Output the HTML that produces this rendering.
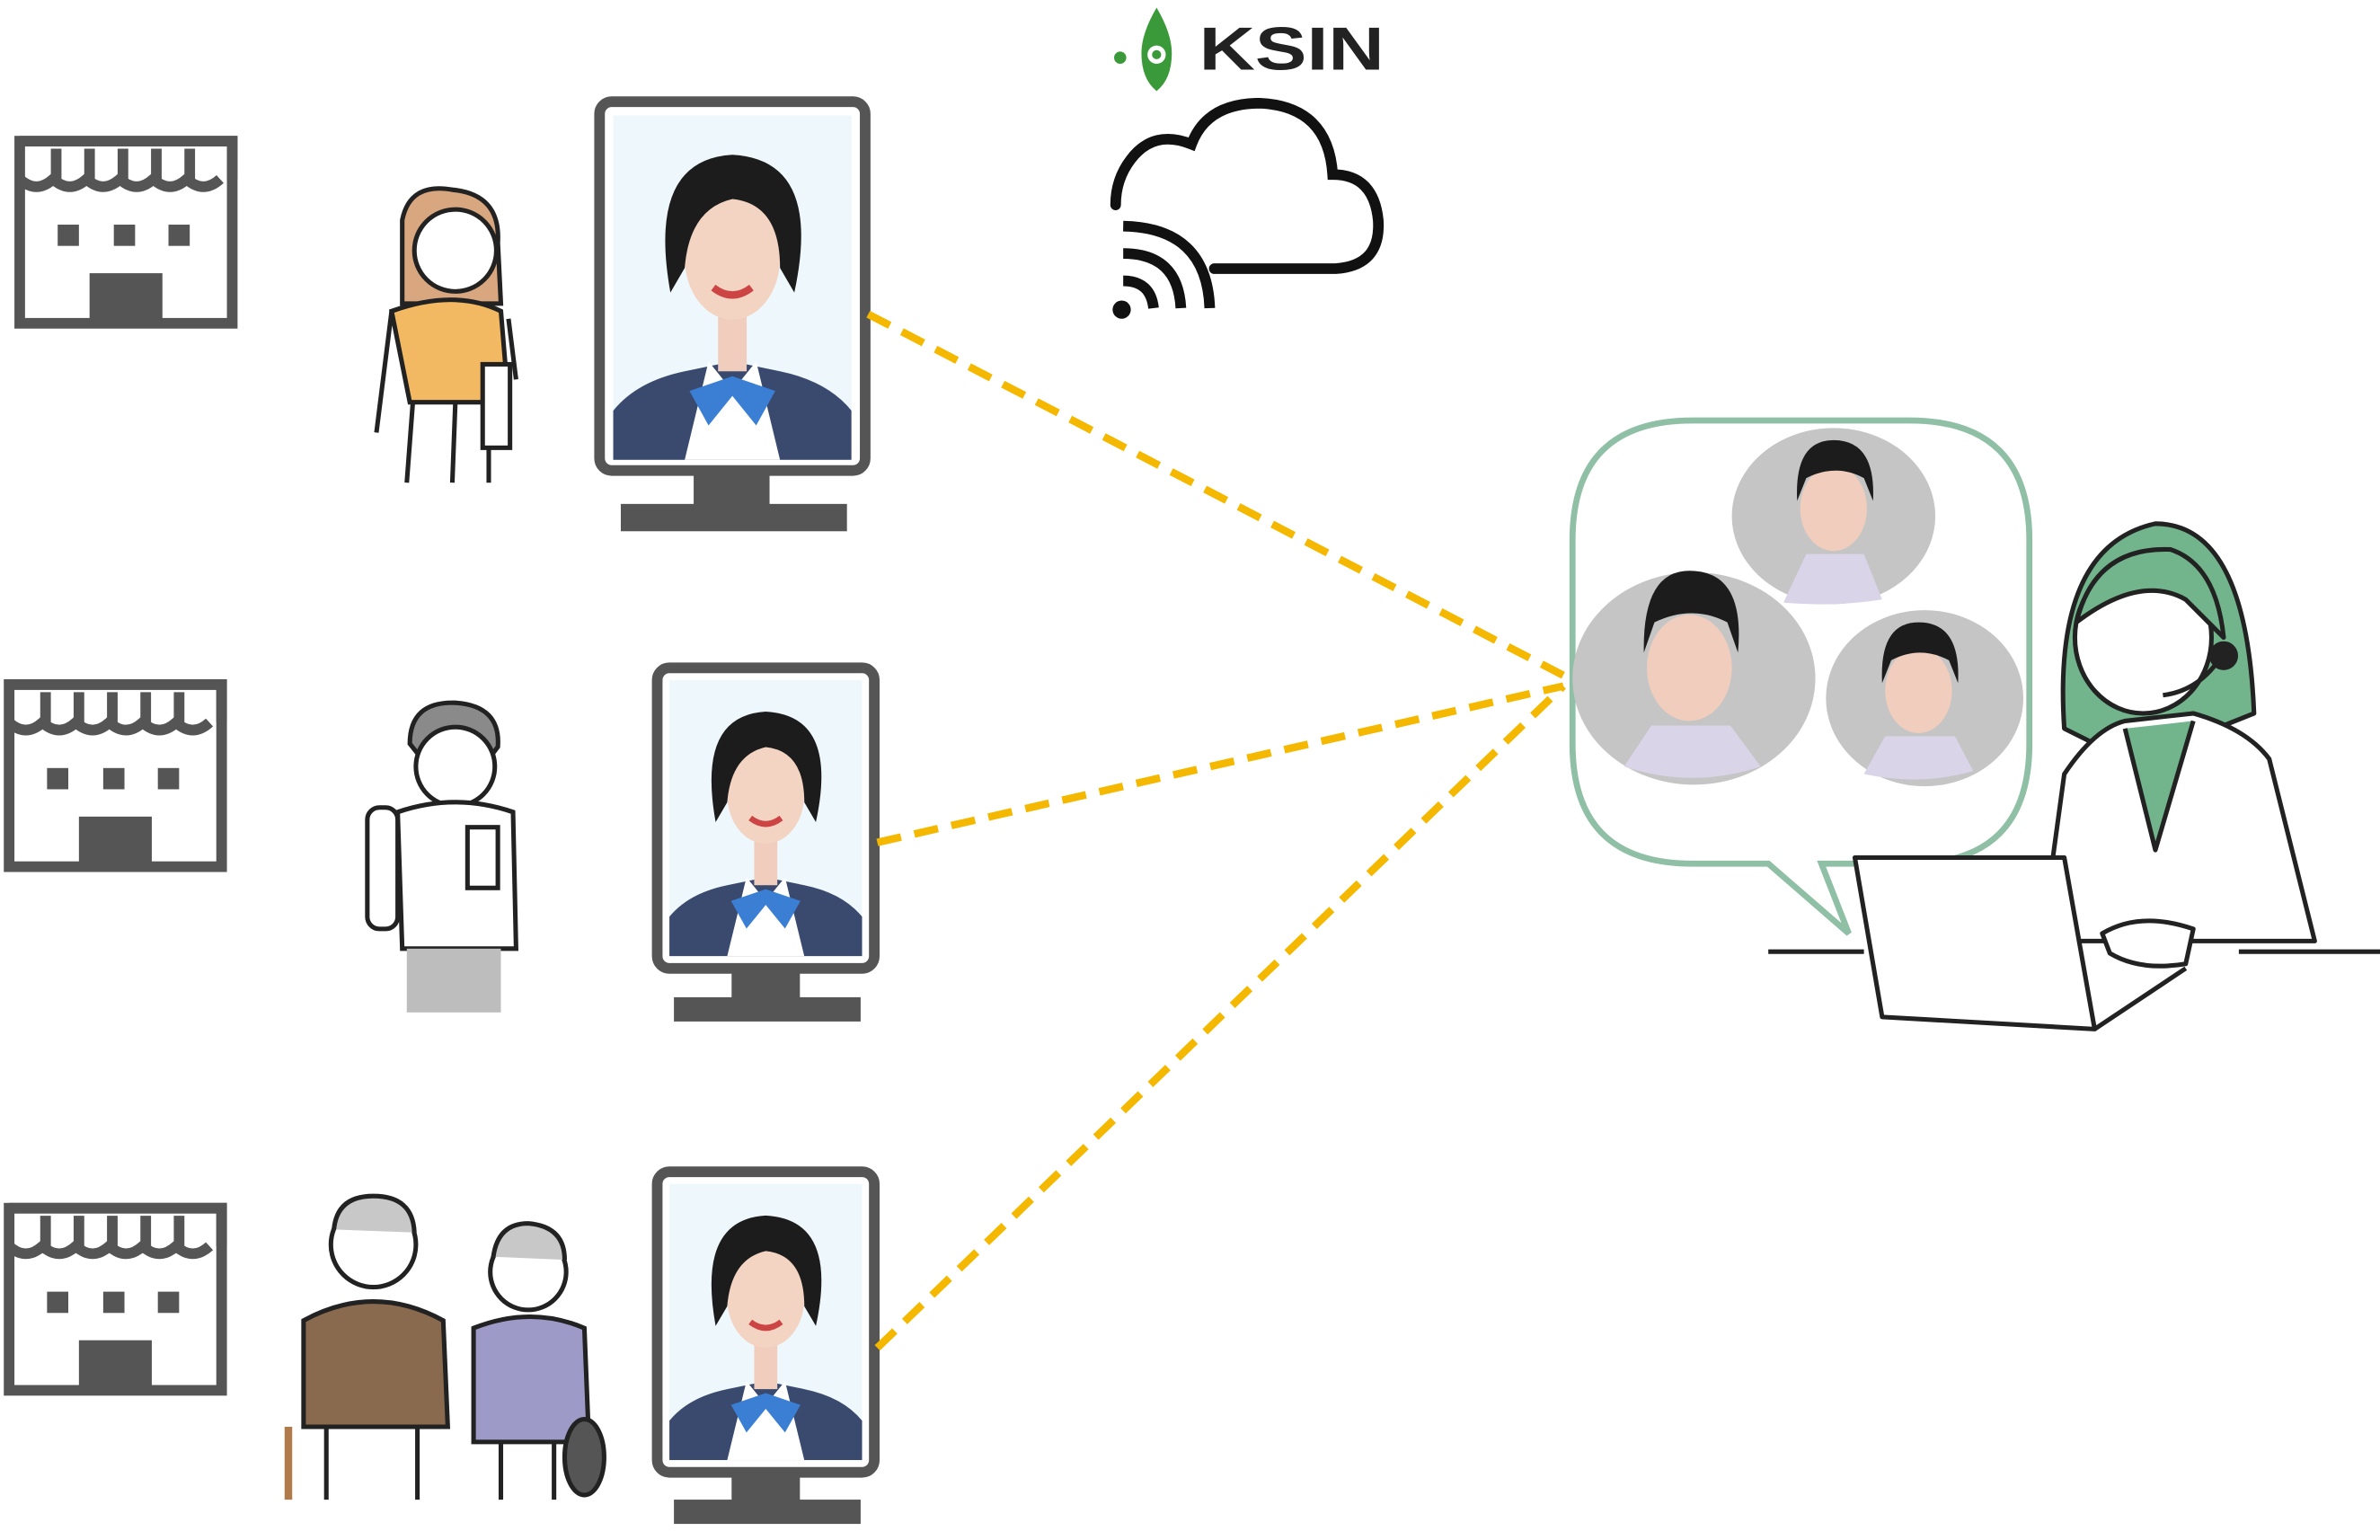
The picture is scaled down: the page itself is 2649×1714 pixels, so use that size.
<!DOCTYPE html>
<html><head><meta charset="utf-8"><style>
html,body{margin:0;padding:0;background:#fff;}
svg{display:block;}
</style></head><body>
<svg width="2649" height="1714" viewBox="0 0 1568 1014.6" preserveAspectRatio="none" xmlns="http://www.w3.org/2000/svg">
<defs>
<g id="store">
  <rect x="3" y="3" width="140" height="120" fill="none" stroke="#555" stroke-width="7"/>
  <path d="M3 3 H143 V28 M3 28 Q14 38 25 28 Q36 38 47 28 Q58 38 69 28 Q80 38 91 28 Q102 38 113 28 Q124 38 135 28 M27 8 V30 M49 8 V30 M71 8 V30 M93 8 V30 M115 8 V30" fill="none" stroke="#555" stroke-width="7"/>
  <rect x="28" y="58" width="14" height="14" fill="#555"/>
  <rect x="65" y="58" width="14" height="14" fill="#555"/>
  <rect x="101" y="58" width="14" height="14" fill="#555"/>
  <rect x="49" y="90" width="48" height="33" fill="#555"/>
</g>
<g id="woman">
  <rect x="0" y="0" width="100" height="140" fill="#eef7fb"/>
  <path d="M0 140 L0 120 Q10 108 30 104 L50 100 L70 104 Q90 108 100 120 L100 140Z" fill="#3a4a6e"/>
  <path d="M30 140 L40 100 L50 112 L60 100 L70 140Z" fill="#fff"/>
  <path d="M32 112 L50 106 L68 112 L60 126 L50 114 L40 126Z" fill="#3b7fd4"/>
  <rect x="44" y="78" width="12" height="26" fill="#f0cdbd"/>
  <ellipse cx="50" cy="58" rx="20" ry="25" fill="#f3d3c2"/>
  <path d="M24 72 Q14 18 50 16 Q88 18 76 72 L70 62 Q70 36 50 34 Q32 38 30 62Z" fill="#1c1c1c"/>
  <path d="M42 70 Q50 76 58 70" stroke="#c44" stroke-width="3" fill="none"/>
</g>
</defs>

<use href="#store" x="10" y="90"/>
<use href="#store" x="3" y="448"/>
<use href="#store" x="3" y="793"/>

<g stroke="#222" stroke-width="3" fill="none">
  <path d="M265 145 Q270 120 298 125 Q330 128 328 160 L330 200 L265 200 Z" fill="#d9a77f"/>
  <circle cx="300" cy="165" r="27" fill="#fff"/>
  <path d="M258 205 Q300 190 330 205 L335 265 L270 265 Z" fill="#f3b862"/>
  <path d="M258 205 L248 285 M335 210 L340 250" />
  <path d="M272 265 L268 318 M300 265 L298 318 M322 265 L322 318"/>
  <rect x="318" y="240" width="18" height="55" fill="#fff"/>
</g>
<g stroke="#222" stroke-width="3" fill="none">
  <path d="M270 490 Q270 462 300 463 Q330 465 328 492 L322 500 L278 500Z" fill="#8a8a8a"/>
  <circle cx="300" cy="505" r="26" fill="#fff"/>
  <rect x="242" y="532" width="20" height="80" rx="8" fill="#fff"/>
  <path d="M262 535 Q300 522 338 535 L340 625 L265 625 Z" fill="#fff"/>
  <rect x="308" y="545" width="20" height="40" fill="#fff"/>
  <rect x="268" y="625" width="62" height="42" fill="#bdbdbd" stroke="none"/>
</g>
<g stroke="#222" stroke-width="3" fill="none">
  <circle cx="246" cy="820" r="28" fill="#fff"/>
  <path d="M220 810 Q222 788 246 788 Q272 788 273 812" fill="#c8c8c8"/>
  <path d="M200 870 Q246 845 292 870 L295 940 L200 940 Z" fill="#8a6a4e"/>
  <path d="M215 940 L215 988 M275 940 L275 988"/>
  <path d="M190 940 L190 988" stroke="#b07a4a" stroke-width="5"/>
  <circle cx="348" cy="838" r="25" fill="#fff"/>
  <path d="M325 828 Q328 806 348 806 Q372 808 372 830" fill="#c8c8c8"/>
  <path d="M312 875 Q350 860 385 875 L388 950 L312 950 Z" fill="#9e9ac8"/>
  <path d="M330 950 L330 988 M365 950 L365 988"/>
  <ellipse cx="385" cy="960" rx="13" ry="25" fill="#555"/>
</g>

<g>
  <rect x="395" y="67" width="175" height="243" rx="8" fill="#fff" stroke="#555" stroke-width="7"/>
  <rect x="457" y="310" width="50" height="24" fill="#555"/>
  <rect x="409" y="332" width="149" height="18" fill="#555"/>
  <svg x="404" y="76" width="157" height="227" viewBox="0 0 100 140" preserveAspectRatio="none"><use href="#woman"/></svg>
</g>
<g>
  <rect x="433" y="440" width="143" height="198" rx="8" fill="#fff" stroke="#555" stroke-width="7"/>
  <rect x="482" y="638" width="45" height="20" fill="#555"/>
  <rect x="444" y="657" width="123" height="16" fill="#555"/>
  <svg x="441" y="448" width="127" height="182" viewBox="0 0 100 140" preserveAspectRatio="none"><use href="#woman"/></svg>
</g>
<g>
  <rect x="433" y="772" width="143" height="198" rx="8" fill="#fff" stroke="#555" stroke-width="7"/>
  <rect x="482" y="970" width="45" height="20" fill="#555"/>
  <rect x="444" y="988" width="123" height="16" fill="#555"/>
  <svg x="441" y="780" width="127" height="182" viewBox="0 0 100 140" preserveAspectRatio="none"><use href="#woman"/></svg>
</g>

<g stroke="#f5b800" stroke-width="5" stroke-dasharray="16 9" fill="none">
  <path d="M572 207 L1030 445"/>
  <path d="M578 555 L1030 452"/>
  <path d="M578 888 L1030 452"/>
</g>

<g>
  <path d="M762 5 Q752 22 752 35 Q752 52 762 60 Q772 52 772 35 Q772 22 762 5Z" fill="#3a9a3a"/>
  <circle cx="762" cy="36" r="6" fill="#fff"/><circle cx="762" cy="36" r="3" fill="#3a9a3a"/>
  <circle cx="738" cy="38" r="4" fill="#3a9a3a"/>
  <text x="790" y="46" font-family="Liberation Sans, sans-serif" font-size="40" font-weight="bold" fill="#222" textLength="122" lengthAdjust="spacingAndGlyphs">KSIN</text>
  <path d="M800 177 L880 177 Q910 175 908 145 Q905 115 878 115 Q875 70 830 68 Q795 68 785 95 Q760 85 745 105 Q735 118 735 135" fill="none" stroke="#111" stroke-width="7" stroke-linecap="round"/>
  <circle cx="739" cy="204" r="6" fill="#111"/>
  <path d="M740 185 Q758 185 760 203 M740 167 Q776 167 778 203 M740 149 Q795 150 797 203" fill="none" stroke="#111" stroke-width="7"/>
</g>

<path d="M1115 277 H1258 Q1337 277 1337 356 V490 Q1337 569 1258 569 H1200 L1218 615 L1165 569 H1115 Q1036 569 1036 490 V356 Q1036 277 1115 277Z" fill="#fff" stroke="#8fbfa5" stroke-width="4"/>
<g>
  <ellipse cx="1208" cy="340" rx="67" ry="58" fill="#c5c5c5"/>
  <ellipse cx="1116" cy="447" rx="80" ry="70" fill="#c5c5c5"/>
  <ellipse cx="1268" cy="460" rx="65" ry="58" fill="#c5c5c5"/>
  <g fill="#f0cdbd"><ellipse cx="1208" cy="335" rx="22" ry="28"/><ellipse cx="1113" cy="440" rx="28" ry="35"/><ellipse cx="1264" cy="455" rx="22" ry="28"/></g>
  <g fill="#1c1c1c"><path d="M1184 330 Q1182 290 1208 290 Q1236 290 1234 330 L1228 315 Q1210 305 1190 315Z"/><path d="M1083 430 Q1082 376 1113 376 Q1150 376 1145 430 L1138 410 Q1115 398 1090 410Z"/><path d="M1240 450 Q1238 410 1264 410 Q1292 410 1290 450 L1284 435 Q1265 425 1246 435Z"/></g>
  <g fill="#d9d4e8"><path d="M1175 397 L1190 365 L1228 365 L1240 395 Q1208 400 1175 397Z"/><path d="M1070 505 L1088 478 L1140 478 L1160 505 Q1115 520 1070 505Z"/><path d="M1228 510 L1242 485 L1288 485 L1300 508 Q1265 518 1228 510Z"/></g>
</g>

<g stroke="#222" stroke-width="3" fill="none" stroke-linejoin="round">
  <path d="M1360 480 Q1352 360 1420 345 Q1480 345 1485 470 L1460 480 L1380 490Z" fill="#72b58c"/>
  <ellipse cx="1412" cy="420" rx="45" ry="50" fill="#fff"/>
  <path d="M1368 410 Q1380 360 1430 362 Q1460 372 1465 420 L1440 395 Q1410 378 1368 410Z" fill="#72b58c"/>
  <path d="M1465 430 Q1450 455 1425 458"/><circle cx="1465" cy="432" r="8" fill="#222"/>
  <path d="M1345 620 L1360 510 Q1380 480 1400 475 L1445 470 Q1480 480 1495 500 L1525 620 Z" fill="#fff"/>
  <path d="M1400 480 L1420 560 L1445 475" fill="#72b58c"/>
  <path d="M1165 627 H1228 M1475 627 H1568"/>
  <path d="M1222 565 L1360 565 L1380 678 L1240 670 Z" fill="#fff"/>
  <path d="M1380 678 L1440 638" />
  <path d="M1385 615 Q1410 600 1445 612 L1440 635 Q1410 640 1390 628Z" fill="#fff"/>
</g>
</svg>
</body></html>
